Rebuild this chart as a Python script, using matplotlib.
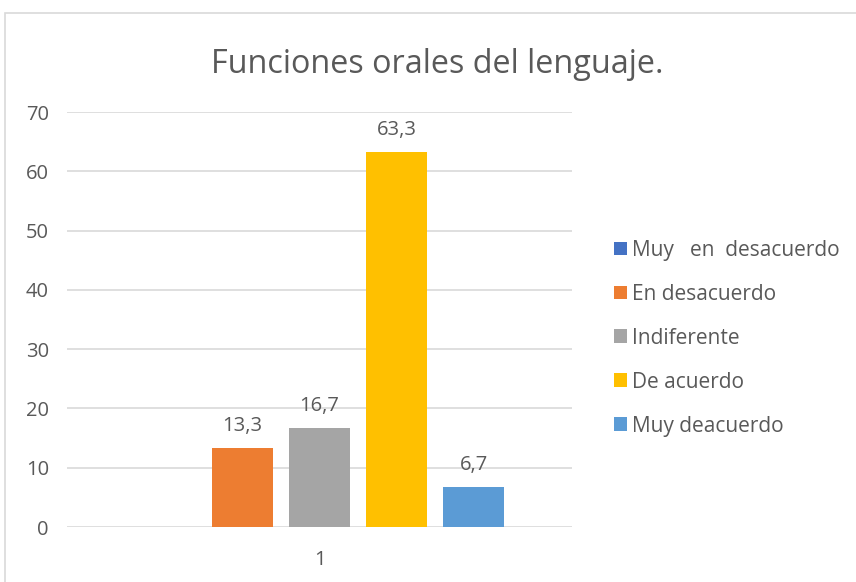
import matplotlib
matplotlib.use("Agg")
import matplotlib.pyplot as plt
import numpy as np
from matplotlib.patches import Rectangle

# data
series = ["Muy   en  desacuerdo", "En desacuerdo", "Indiferente", "De acuerdo", "Muy deacuerdo"]
values = [0, 13.3, 16.7, 63.3, 6.7]
colors = ["#4472C4", "#ED7D31", "#A5A5A5", "#FFC000", "#5B9BD5"]
category = ["1"]
yticks = [0, 10, 20, 30, 40, 50, 60, 70]

plt.rcParams['font.family'] = ['Open Sans', 'DejaVu Sans']
txt = "#595959"

fig = plt.figure(figsize=(8.56, 5.82), dpi=100)
ax = fig.add_axes([0.0783, 0.0945, 0.590, 0.713])

# outer chart border
fig.patches.append(Rectangle((0.006, -0.01), 1.0, 0.988, transform=fig.transFigure,
                             fill=False, edgecolor="#d9d9d9", linewidth=1.2))

n = len(series)
step = 0.1525
width = 0.121
for i, (name, v, c) in enumerate(zip(series, values, colors)):
    x = (i - (n - 1) / 2) * step
    ax.bar(x, v, width=width, color=c, label=name, zorder=3)
    if v > 0:
        ax.text(x, v + 2.0, f"{v:.1f}".replace(".", ","), ha="center", va="bottom",
                fontsize=14.5, color=txt)

ax.set_xlim(-0.5, 0.5)
ax.set_ylim(0, 70)
ax.set_yticks(yticks)
ax.set_xticks([0])
ax.set_xticklabels(category)
ax.grid(axis="y", color="#d9d9d9", linewidth=1.2, zorder=0)
for s in ["top", "right", "left", "bottom"]:
    ax.spines[s].set_visible(False)
ax.tick_params(axis="both", length=0, labelsize=14.5, labelcolor=txt)
ax.tick_params(axis="y", pad=13)
ax.tick_params(axis="x", pad=16.5)

fig.text(0.511, 0.889, "Funciones orales del lenguaje.", ha="center", va="center",
         fontsize=23.3, color=txt)

ax.legend(loc="center left", bbox_to_anchor=(1.045, 0.455), frameon=False, fontsize=15,
          labelcolor=txt, handlelength=0.65, handleheight=0.65, handletextpad=0.25,
          labelspacing=1.1)

fig.savefig("out.png", dpi=100)
